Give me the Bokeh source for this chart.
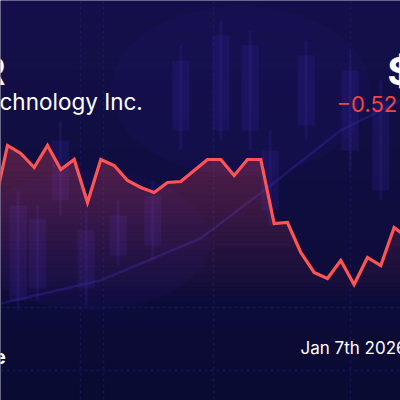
import numpy as np
from bokeh.plotting import figure
from bokeh.models import Range1d
from bokeh.core.properties import value
from bokeh.embed import file_html
from bokeh.resources import INLINE

# ---- data ----
days = list(range(32))
prices = [44.95, 48.00, 47.60, 46.90, 48.00, 46.80, 47.30, 45.15, 47.30, 47.00,
          46.25, 45.90, 45.65, 46.15, 46.20, 46.75, 47.30, 47.30, 46.50, 47.30,
          47.30, 44.10, 44.15, 42.65, 41.65, 41.35, 42.25, 41.05, 42.40, 42.00,
          43.90, 43.40]

# faint background candles (decorative, blurred in the original)
candle_day = [1.8, 3.25, 6.9, 9.3, 11.9, 14.0, 17.0, 19.2, 23.4, 26.7, 4.975, 20.7, 29.0]
candle_open = [45.00, 44.35, 43.75, 44.50, 45.50, 52.25, 53.50, 53.00, 52.50, 51.75, 48.25, 47.75, 50.25]
candle_close = [40.25, 40.85, 40.85, 42.50, 43.00, 48.75, 48.75, 48.75, 49.00, 47.75, 45.25, 44.75, 45.75]
candle_high = [45.75, 45.00, 44.75, 45.25, 46.25, 53.00, 54.25, 53.75, 53.25, 52.75, 49.25, 48.75, 51.25]
candle_low = [39.75, 40.25, 40.00, 42.00, 42.25, 47.75, 48.25, 47.75, 48.25, 46.75, 44.50, 44.00, 45.25]

ma_days = [0.475, 7.975, 15.475, 20.725, 25.975, 30.48]
ma_values = [40.10, 41.25, 43.35, 46.00, 48.75, 50.25]

ticker_tail = "R"
company_tail = "chnology Inc."
price_head = "$"
change_text = "\u22120.52"
date_text = "Jan 7th 2026"
label_tail = "e"

# ---- geometry helpers (reference is 400 px) ----
W = H = 400
S = W / 400.0
X0, X1 = 0.475, 30.48
Y0, Y1 = 35.25, 55.25


def px(x):
    return X0 + x / 400.0 * (X1 - X0)


def py(y):
    return Y1 - y / 400.0 * (Y1 - Y0)


def fs(size):
    return f"{size * S:.1f}px"


p = figure(width=W, height=H, output_backend="svg", toolbar_location=None,
           x_range=Range1d(X0, X1), y_range=Range1d(Y0, Y1),
           x_axis_type=None, y_axis_type=None, min_border=0,
           background_fill_color="#120e44", border_fill_color="#120e44",
           outline_line_color=None)
p.grid.visible = False

# background vertical gradient
top_c = np.array([0x15, 0x10, 0x4b])
bot_c = np.array([0x0a, 0x0b, 0x33])
n = 40
edges = np.linspace(0, 400, n + 1)
cols = []
for k in range(n):
    t = (k + 0.5) / n
    c = (top_c * (1 - t) + bot_c * t).astype(int)
    cols.append("#%02x%02x%02x" % tuple(c))
p.quad(left=X0, right=X1, top=[py(e) for e in edges[:-1]],
       bottom=[py(e) for e in edges[1:]], fill_color=cols, line_color=None)

# purple glow around candles
p.ellipse(x=[px(240)], y=[py(90)], width=px(260) - px(0), height=py(0) - py(170),
          fill_color="#2a1c86", fill_alpha=0.12, line_color=None)
p.ellipse(x=[px(90)], y=[py(240)], width=px(240) - px(0), height=py(0) - py(140),
          fill_color="#2a1c86", fill_alpha=0.12, line_color=None)

# faint dashed grid
for gx in [80, 103, 213, 350]:
    p.segment(x0=[px(gx)], y0=[py(0)], x1=[px(gx)], y1=[py(400)],
              line_color="#2b2a7a", line_alpha=0.3, line_width=1.5, line_dash="3 3")
for gy in [307, 370]:
    p.segment(x0=[px(0)], y0=[py(gy)], x1=[px(400)], y1=[py(gy)],
              line_color="#2b2a7a", line_alpha=0.3, line_width=1.5, line_dash="3 3")

# background candles
p.segment(x0=candle_day, y0=candle_low, x1=candle_day, y1=candle_high,
          line_color="#3a2aa8", line_alpha=0.2, line_width=3)
p.vbar(x=candle_day, width=1.3, top=candle_open, bottom=candle_close,
       fill_color="#3a2aa8", fill_alpha=0.2, line_color=None)

# moving-average line
p.line(ma_days, ma_values, line_color="#3a2ab0", line_alpha=0.35, line_width=2.5)

# gradient area fill under price line (fill geometry sampled finely so bands join cleanly)
fx = np.linspace(days[0], days[-1], 1200)
fy = np.interp(fx, days, prices)
nb = 36
band_edges = np.linspace(140, 305, nb + 1)
for k in range(nb):
    ptop = py(band_edges[k])
    pbot = py(band_edges[k + 1])
    a = 0.30 * (1 - (k + 0.5) / nb)
    y1 = np.clip(fy, pbot, ptop)
    p.varea(x=list(fx), y1=list(y1), y2=[pbot] * len(fx),
            fill_color="#ff4f5a", fill_alpha=a)

# price line
p.line(days, prices, line_color="#ff5454", line_width=3.2 * S,
       line_join="miter")

# texts
FONT = value("Inter")
p.text(x=[px(-20)], y=[py(70)], text=[ticker_tail], text_font=FONT,
       text_font_size=fs(38), text_font_style="bold", text_color="white",
       text_align="left", text_baseline="alphabetic")
p.text(x=[px(-1)], y=[py(101)], text=[company_tail], text_font=FONT,
       text_font_size=fs(22.5), text_color="white",
       text_align="left", text_baseline="alphabetic")
p.text(x=[px(387)], y=[py(70)], text=[price_head], text_font=FONT,
       text_font_size=fs(38), text_font_style="bold", text_color="white",
       text_align="left", text_baseline="alphabetic")
p.text(x=[px(336)], y=[py(103)], text=[change_text], text_font=FONT,
       text_font_size=fs(22), text_color="#f24444",
       text_align="left", text_baseline="alphabetic")
p.text(x=[px(300)], y=[py(347)], text=[date_text], text_font=FONT,
       text_font_size=fs(17), text_color="white",
       text_align="left", text_baseline="alphabetic")
p.text(x=[px(-6)], y=[py(356)], text=[label_tail], text_font=FONT,
       text_font_size=fs(19), text_font_style="bold", text_color="white",
       text_align="left", text_baseline="alphabetic")

open("out.html", "w").write(file_html(p, INLINE))
